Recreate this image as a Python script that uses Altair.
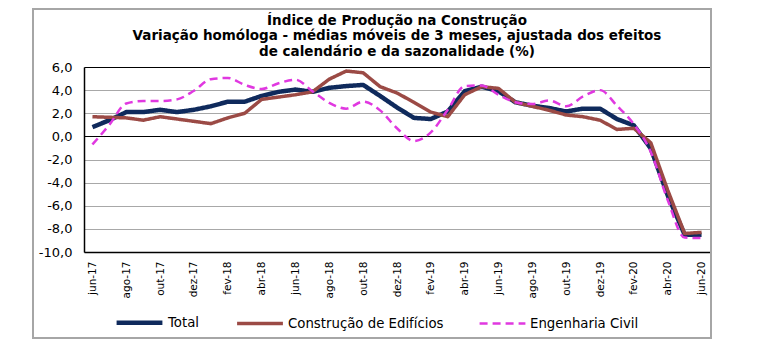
import altair as alt
import pandas as pd

meses = ["jun-17", "jul-17", "ago-17", "set-17", "out-17", "nov-17", "dez-17",
         "jan-18", "fev-18", "mar-18", "abr-18", "mai-18", "jun-18", "jul-18", "ago-18", "set-18", "out-18", "nov-18", "dez-18",
         "jan-19", "fev-19", "mar-19", "abr-19", "mai-19", "jun-19", "jul-19", "ago-19", "set-19", "out-19", "nov-19", "dez-19",
         "jan-20", "fev-20", "mar-20", "abr-20", "mai-20", "jun-20"]

total = [0.8, 1.4, 2.1, 2.1, 2.3, 2.1, 2.3,
         2.6, 3.0, 3.0, 3.5, 3.85, 4.05, 3.85, 4.2, 4.35, 4.45, 3.5, 2.5,
         1.6, 1.5, 2.15, 3.9, 4.3, 3.9, 2.95, 2.65, 2.45, 2.15, 2.4, 2.4,
         1.5, 0.95, -1.05, -5.1, -8.5, -8.5]

construcao = [1.7, 1.65, 1.6, 1.4, 1.7, 1.5, 1.3,
              1.1, 1.6, 2.0, 3.2, 3.4, 3.6, 3.85, 4.95, 5.65, 5.5, 4.3, 3.75,
              2.95, 2.1, 1.7, 3.6, 4.3, 4.15, 2.95, 2.6, 2.25, 1.85, 1.7, 1.4,
              0.6, 0.7, -0.55, -4.65, -8.4, -8.3]

engenharia = [-0.7, 1.0, 2.85, 3.05, 3.05, 3.2, 3.95,
              4.95, 5.05, 4.45, 4.1, 4.6, 4.9, 3.9, 2.9, 2.4, 3.0, 2.25, 0.7,
              -0.4, 0.35, 2.3, 4.35, 4.4, 3.6, 2.95, 2.8, 3.1, 2.6, 3.45, 4.0,
              2.65, 1.05, -1.35, -5.5, -8.75, -8.8]

series = ["Total", "Construção de Edifícios", "Engenharia Civil"]
cores = ["#0f2a5c", "#9b4a45", "#e038e0"]
larguras = [4.5, 2.5, 3.0]
tracos = [[1, 0], [1, 0], [8, 5]]
y_ticks = [-10, -8, -6, -4, -2, 0, 2, 4, 6]
titulo = ["Índice de Produção na Construção",
          "Variação homóloga - médias móveis de 3 meses, ajustada dos efeitos",
          "de calendário e da sazonalidade (%)"]

rows = []
for nome, vals in zip(series, [total, construcao, engenharia]):
    for m, v in zip(meses, vals):
        rows.append({"mes": m, "valor": v, "serie": nome})
df = pd.DataFrame(rows)

FONT = "DejaVu Sans"

x_enc = alt.X("mes:O", sort=meses, title=None,
              scale=alt.Scale(type="point", padding=0.5),
              axis=alt.Axis(values=meses[::2], labelAngle=270, labelFontSize=10.5,
                            labelFont=FONT, labelColor="black", labelPadding=9,
                            ticks=False, domainColor="black", domainWidth=1.5,
                            grid=False))
y_enc = alt.Y("valor:Q", title=None,
              scale=alt.Scale(domain=[-10, 6], nice=False, zero=False),
              axis=alt.Axis(values=y_ticks,
                            labelExpr="(datum.value < 0 ? '-' : '') + replace(format(abs(datum.value), '.1f'), '.', ',')",
                            ticks=False, domainColor="black", domainWidth=1.5,
                            labelFontSize=13, labelFont=FONT, labelColor="black",
                            labelPadding=12,
                            gridColor={"condition": {"test": "datum.value === 0 || datum.value === 6",
                                                     "value": "black"},
                                       "value": "#a8a8a8"},
                            gridWidth=1.2))

legend = alt.Legend(orient="none", legendX=30, legendY=230, direction="horizontal",
                    title=None, symbolType="stroke", symbolSize=2100,
                    labelFontSize=13.3, labelFont=FONT, labelColor="black",
                    columnPadding=30, labelOffset=3, padding=0)

color_enc = alt.Color("serie:N", scale=alt.Scale(domain=series, range=cores), legend=legend)
dash_enc = alt.StrokeDash("serie:N", scale=alt.Scale(domain=series, range=tracos), legend=legend)
width_enc = alt.StrokeWidth("serie:N", scale=alt.Scale(domain=series, range=larguras), legend=legend)

def linha(nome, interp):
    return alt.Chart(df).transform_filter(alt.datum.serie == nome).mark_line(
        interpolate=interp, strokeCap="butt", strokeJoin="round"
    ).encode(x=x_enc, y=y_enc, color=color_enc, strokeDash=dash_enc, strokeWidth=width_enc)

frame = alt.Chart(pd.DataFrame({"k": [0]})).mark_rect(
    fillOpacity=0, stroke="#a6a6a6", strokeWidth=2
).encode(x=alt.value(-51), x2=alt.value(627), y=alt.value(-58), y2=alt.value(271))

chart = alt.layer(
    linha("Total", "linear"),
    linha("Construção de Edifícios", "linear"),
    linha("Engenharia Civil", "monotone"),
    frame,
).properties(
    width=626, height=185,
    title=alt.TitleParams(text=titulo, fontSize=13.5, fontWeight="bold", font=FONT,
                          color="black", anchor="middle", lineHeight=15.5, offset=6, dy=56),
    autosize=alt.AutoSizeParams(type="none"),
    padding={"left": 84, "top": 67, "right": 56, "bottom": 104},
).configure_view(stroke=None).configure(background="white")

chart.save("out.html", embed_options={"renderer": "svg", "actions": False})
